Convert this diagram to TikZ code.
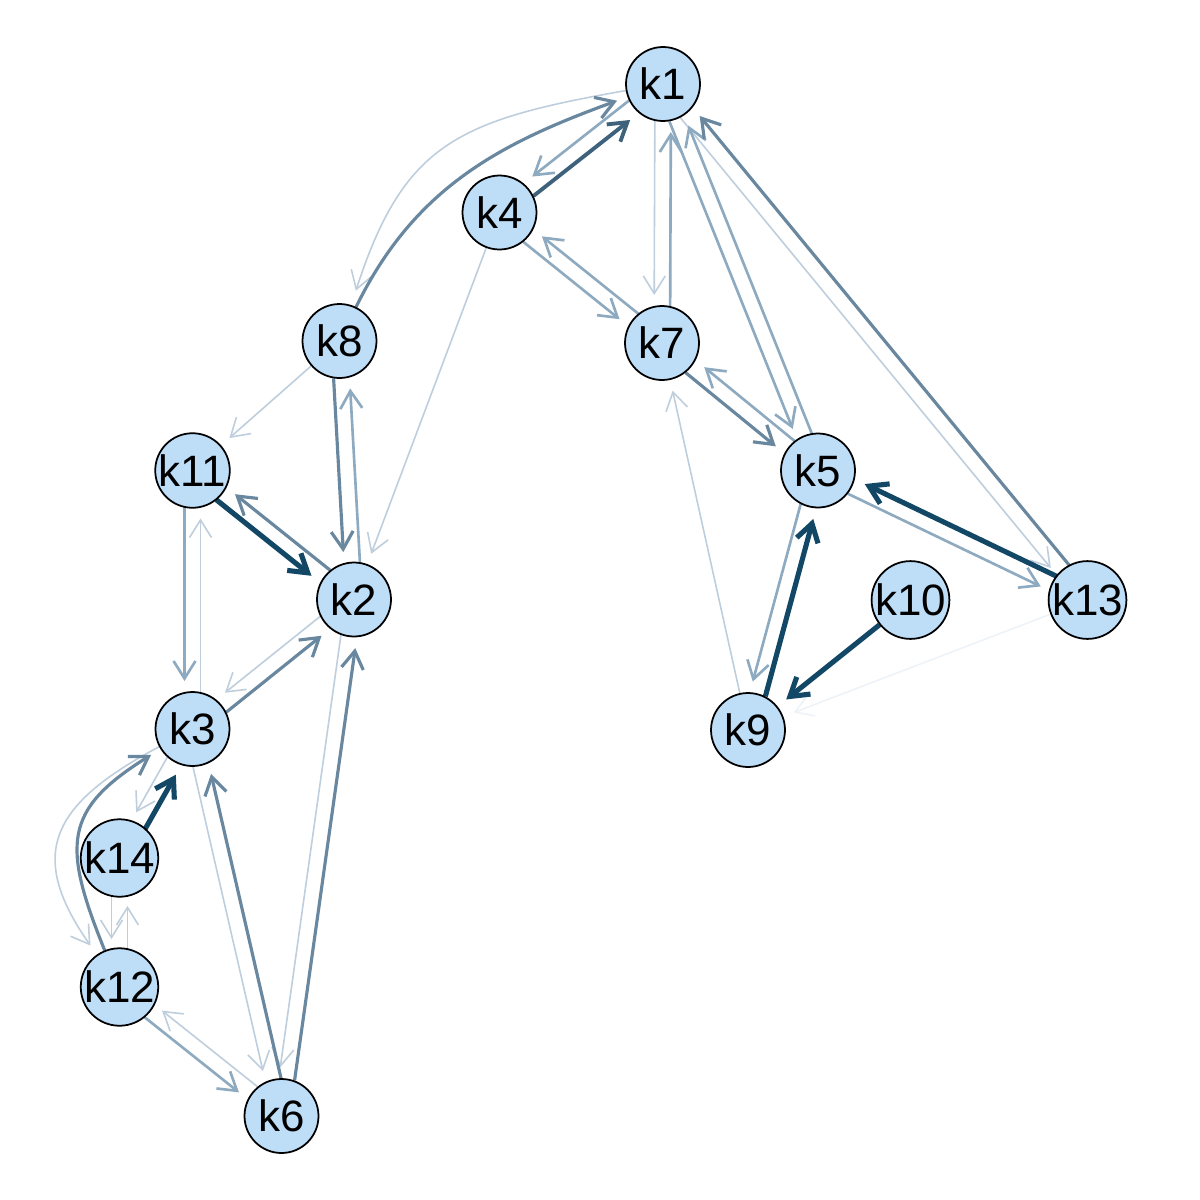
\documentclass[tikz,border=0pt]{standalone}
\usepackage{fontspec}
\setmainfont{Liberation Sans}
\usetikzlibrary{arrows.meta,calc,backgrounds}
\definecolor{nodefill}{RGB}{190,221,247}
\definecolor{edark}{RGB}{18,72,102}
\definecolor{edarkm}{RGB}{62,98,124}
\definecolor{emed}{RGB}{105,136,160}
\definecolor{emlight}{RGB}{142,170,192}
\definecolor{elight}{RGB}{190,206,221}
\definecolor{efaint}{RGB}{238,243,248}
\def\poff{0.16cm}
\newcommand\pedge[3]{\draw[#1] ($(#2.center)!\poff!-90:(#3.center)$) -- ($(#3.center)!\poff!90:(#2.center)$);}
\begin{document}
\begin{tikzpicture}[x=0.02cm,y=0.02cm,
  knode/.style={circle,draw=black,line width=1pt,fill=nodefill,minimum size=1.48cm,inner sep=0pt,text=black,font=\fontsize{25}{25}\selectfont},
  tip/.style={-{Straight Barb[length=10pt,width=12.5pt]}},
  pe/.style={tip,shorten <=0.74cm,shorten >=0.96cm},
  ce/.style={tip,shorten >=0.22cm},
  wdark/.style={draw=edark,line width=2.9pt},
  wdarkm/.style={draw=edarkm,line width=2.2pt},
  wmed/.style={draw=emed,line width=1.8pt},
  wmlight/.style={draw=emlight,line width=1.5pt},
  wlight/.style={draw=elight,line width=0.9pt},
  wfaint/.style={draw=efaint,line width=0.9pt}]

\node[knode] (k1) at (663,-84) {k1};
\node[knode] (k4) at (499.5,-212.5) {k4};
\node[knode] (k8) at (339.5,-341) {k8};
\node[knode] (k7) at (662,-343) {k7};
\node[knode] (k11) at (192.5,-470.5) {k11};
\node[knode] (k5) at (818,-470.5) {k5};
\node[knode] (k2) at (354,-599.5) {k2};
\node[knode] (k10) at (910.5,-600) {k10};
\node[knode] (k13) at (1087.5,-600) {k13};
\node[knode] (k3) at (192.5,-729) {k3};
\node[knode] (k9) at (748,-730) {k9};
\node[knode] (k14) at (119.5,-858) {k14};
\node[knode] (k12) at (119.5,-987) {k12};
\node[knode] (k6) at (281.5,-1116) {k6};

\begin{scope}[on background layer]
\path[use as bounding box,fill=white] (0,0) rectangle (1200,-1200);
% faint
\draw[ce,wfaint] (k13) -- (k9);
% light
\pedge{pe,wlight}{k1}{k7}
\pedge{pe,wlight}{k1}{k13}
\pedge{pe,wlight}{k3}{k11}
\pedge{pe,wlight}{k2}{k3}
\pedge{pe,wlight}{k2}{k6}
\pedge{pe,wlight}{k3}{k6}
\pedge{pe,wlight}{k3}{k14}
\pedge{pe,wlight}{k14}{k12}
\pedge{pe,wlight}{k12}{k14}
\pedge{pe,wlight}{k6}{k12}
\draw[ce,wlight] (k4) -- (k2);
\draw[ce,wlight] (k8) -- (k11);
\draw[ce,wlight] (k9) -- (k7);
\draw[ce,wlight,shorten >=0.3cm] (k1) to[out=190,in=72,looseness=1.25] (k8);
\draw[ce,wlight] (k3) to[out=208,in=125,looseness=1.45] (k12);
% medium light
\pedge{pe,wmlight}{k1}{k4}
\pedge{pe,wmlight}{k4}{k7}
\pedge{pe,wmlight}{k7}{k4}
\pedge{pe,wmlight}{k7}{k1}
\pedge{pe,wmlight}{k1}{k5}
\pedge{pe,wmlight}{k5}{k1}
\pedge{pe,wmlight}{k5}{k7}
\pedge{pe,wmlight}{k5}{k13}
\pedge{pe,wmlight}{k5}{k9}
\pedge{pe,wmlight}{k2}{k8}
\pedge{pe,wmlight}{k11}{k3}
\pedge{pe,wmlight}{k12}{k6}
% medium
\pedge{pe,wmed}{k13}{k1}
\pedge{pe,wmed}{k7}{k5}
\pedge{pe,wmed}{k8}{k2}
\pedge{pe,wmed}{k2}{k11}
\pedge{pe,wmed}{k3}{k2}
\pedge{pe,wmed}{k6}{k2}
\pedge{pe,wmed}{k6}{k3}
\draw[ce,wmed] (k8) to[out=64,in=200] (k1);
\draw[ce,wmed] (k12) to[out=112,in=212,looseness=1.4] (k3);
% dark
\pedge{pe,wdarkm}{k4}{k1}
\pedge{pe,wdark}{k13}{k5}
\pedge{pe,wdark}{k9}{k5}
\pedge{pe,wdark}{k11}{k2}
\pedge{pe,wdark}{k14}{k3}
\draw[ce,wdark] (k10) -- (k9);
\end{scope}
\end{tikzpicture}
\end{document}
